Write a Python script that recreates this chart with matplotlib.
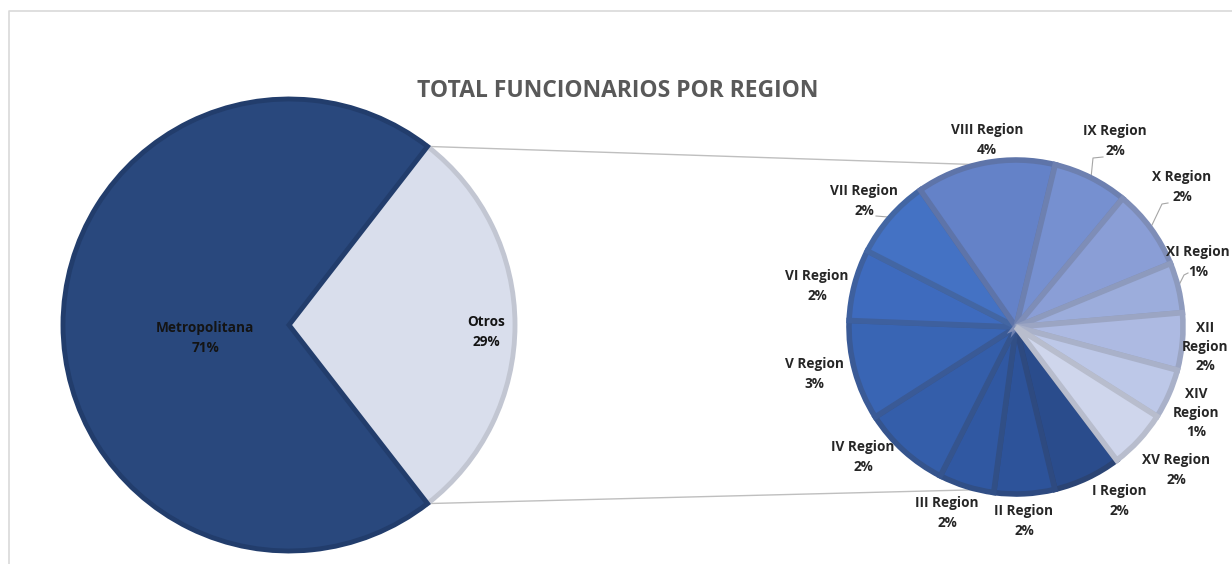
import matplotlib
matplotlib.use("Agg")
import matplotlib.pyplot as plt
import numpy as np

# ---------------- data ----------------
main_labels = ["Otros", "Metropolitana"]
main_values = [29, 71]

region_labels = ["I Region", "II Region", "III Region", "IV Region", "V Region",
                 "VI Region", "VII Region", "VIII Region", "IX Region", "X Region",
                 "XI Region", "XII\nRegion", "XIV\nRegion", "XV Region"]
region_values = [1.9, 1.7, 1.55, 2.45, 2.8, 2.0, 2.25, 3.9, 2.1, 2.25,
                 1.4, 1.6, 1.4, 1.65]

title = "TOTAL FUNCIONARIOS POR REGION"

# ---------------- styles / layout ----------------
W, H = 1232, 564
FONT = ["Open Sans", "DejaVu Sans"]
main_colors = ["#D9DEEC", "#29487D"]
main_edges = ["#C2C6D2", "#223D6C"]
region_colors = ["#2A4C8C", "#2D539A", "#3058A2", "#345EAA", "#3965B4",
                 "#3E6BBE", "#4472C4", "#6482C8", "#7690D0", "#8A9ED6",
                 "#9CADDC", "#ADBAE2", "#BDC8E8", "#CFD6EC"]

def darker(c, f=0.88):
    rgb = np.array(matplotlib.colors.to_rgb(c))
    grey = rgb.mean()
    rgb = (rgb * 0.85 + grey * 0.15) * f
    return tuple(np.clip(rgb, 0, 1))

# pixel positions (y measured from top) of label blocks
main_label_pos = [(486, 332), (205, 338)]
region_label_pos = [(1119, 501), (1024, 521), (947, 513), (863, 457), (814, 374),
                    (817, 286), (864, 201), (987, 140), (1115, 141), (1182, 187),
                    (1198, 262), (1205, 347), (1196, 413), (1176, 470)]

fig = plt.figure(figsize=(W / 100, H / 100), dpi=100)
ax = fig.add_axes([0, 0, 1, 1])

def py(y):
    return H - y

# left pie
c1 = (289, py(325)); r1 = 226
start1 = -main_values[0] / sum(main_values) * 180
w1, _ = ax.pie(main_values, colors=main_colors, startangle=start1, counterclock=True,
               center=c1, radius=r1, frame=True,
               wedgeprops=dict(linewidth=3.5))
for w, e in zip(w1, main_edges):
    w.set_edgecolor(e)
    w.set_joinstyle("miter")

# right pie
c2 = (1016, py(327)); r2 = 167
start2 = -52.9
w2, _ = ax.pie(region_values, colors=region_colors, startangle=start2, counterclock=False,
               center=c2, radius=r2, frame=True,
               wedgeprops=dict(linewidth=4.0))
for w, c in zip(w2, region_colors):
    w.set_edgecolor(darker(c))
    w.set_joinstyle("miter")

# connector lines from Otros wedge edge to second pie
ow = w1[0]
for ang, end_ang in [(ow.theta2, 103.5), (ow.theta1, -103.0)]:
    x0 = c1[0] + r1 * np.cos(np.radians(ang))
    y0 = c1[1] + r1 * np.sin(np.radians(ang))
    x1 = c2[0] + r2 * np.cos(np.radians(end_ang))
    y1 = c2[1] + r2 * np.sin(np.radians(end_ang))
    ax.plot([x0, x1], [y0, y1], color="#BFBFBF", lw=1.0, zorder=0.5)

# labels
LBL = dict(fontsize=9.8, fontweight="bold", family=FONT, linespacing=1.5,
           ha="center", va="center")
tot = sum(main_values)
for lab, v, (x, y) in zip(main_labels, main_values, main_label_pos):
    ax.text(x, py(y), f"{lab}\n{v / tot * 100:.0f}%", color="#141414", **LBL)

for lab, v, (x, y) in zip(region_labels, region_values, region_label_pos):
    ax.text(x, py(y), f"{lab}\n{v:.0f}%", color="#262626", clip_on=False, **LBL)

# leader lines for a few labels
leaders = {6: [(876, 216), (888, 217)],
           8: [(1103, 157), (1093, 158), (1091, 178)],
           9: [(1168, 203), (1162, 204), (1152, 225)],
           10: [(1188, 273), (1184, 275), (1178, 287)]}
for i, pts in leaders.items():
    xs = [p[0] for p in pts]; ys = [py(p[1]) for p in pts]
    ax.plot(xs, ys, color="#A6A6A6", lw=0.8, zorder=0.5)

ax.text(618, py(91), title, ha="center", va="center", fontsize=16.5,
        fontweight="bold", color="#595959", family=FONT)

# chart frame
ax.plot([8.5, 8.5, W], [0, py(10.5), py(10.5)], color="#D9D9D9", lw=1.2, zorder=0.2)

ax.set_xlim(0, W)
ax.set_ylim(0, H)
ax.set_aspect("equal")
ax.axis("off")

fig.savefig("out.png", dpi=100, facecolor="white")
